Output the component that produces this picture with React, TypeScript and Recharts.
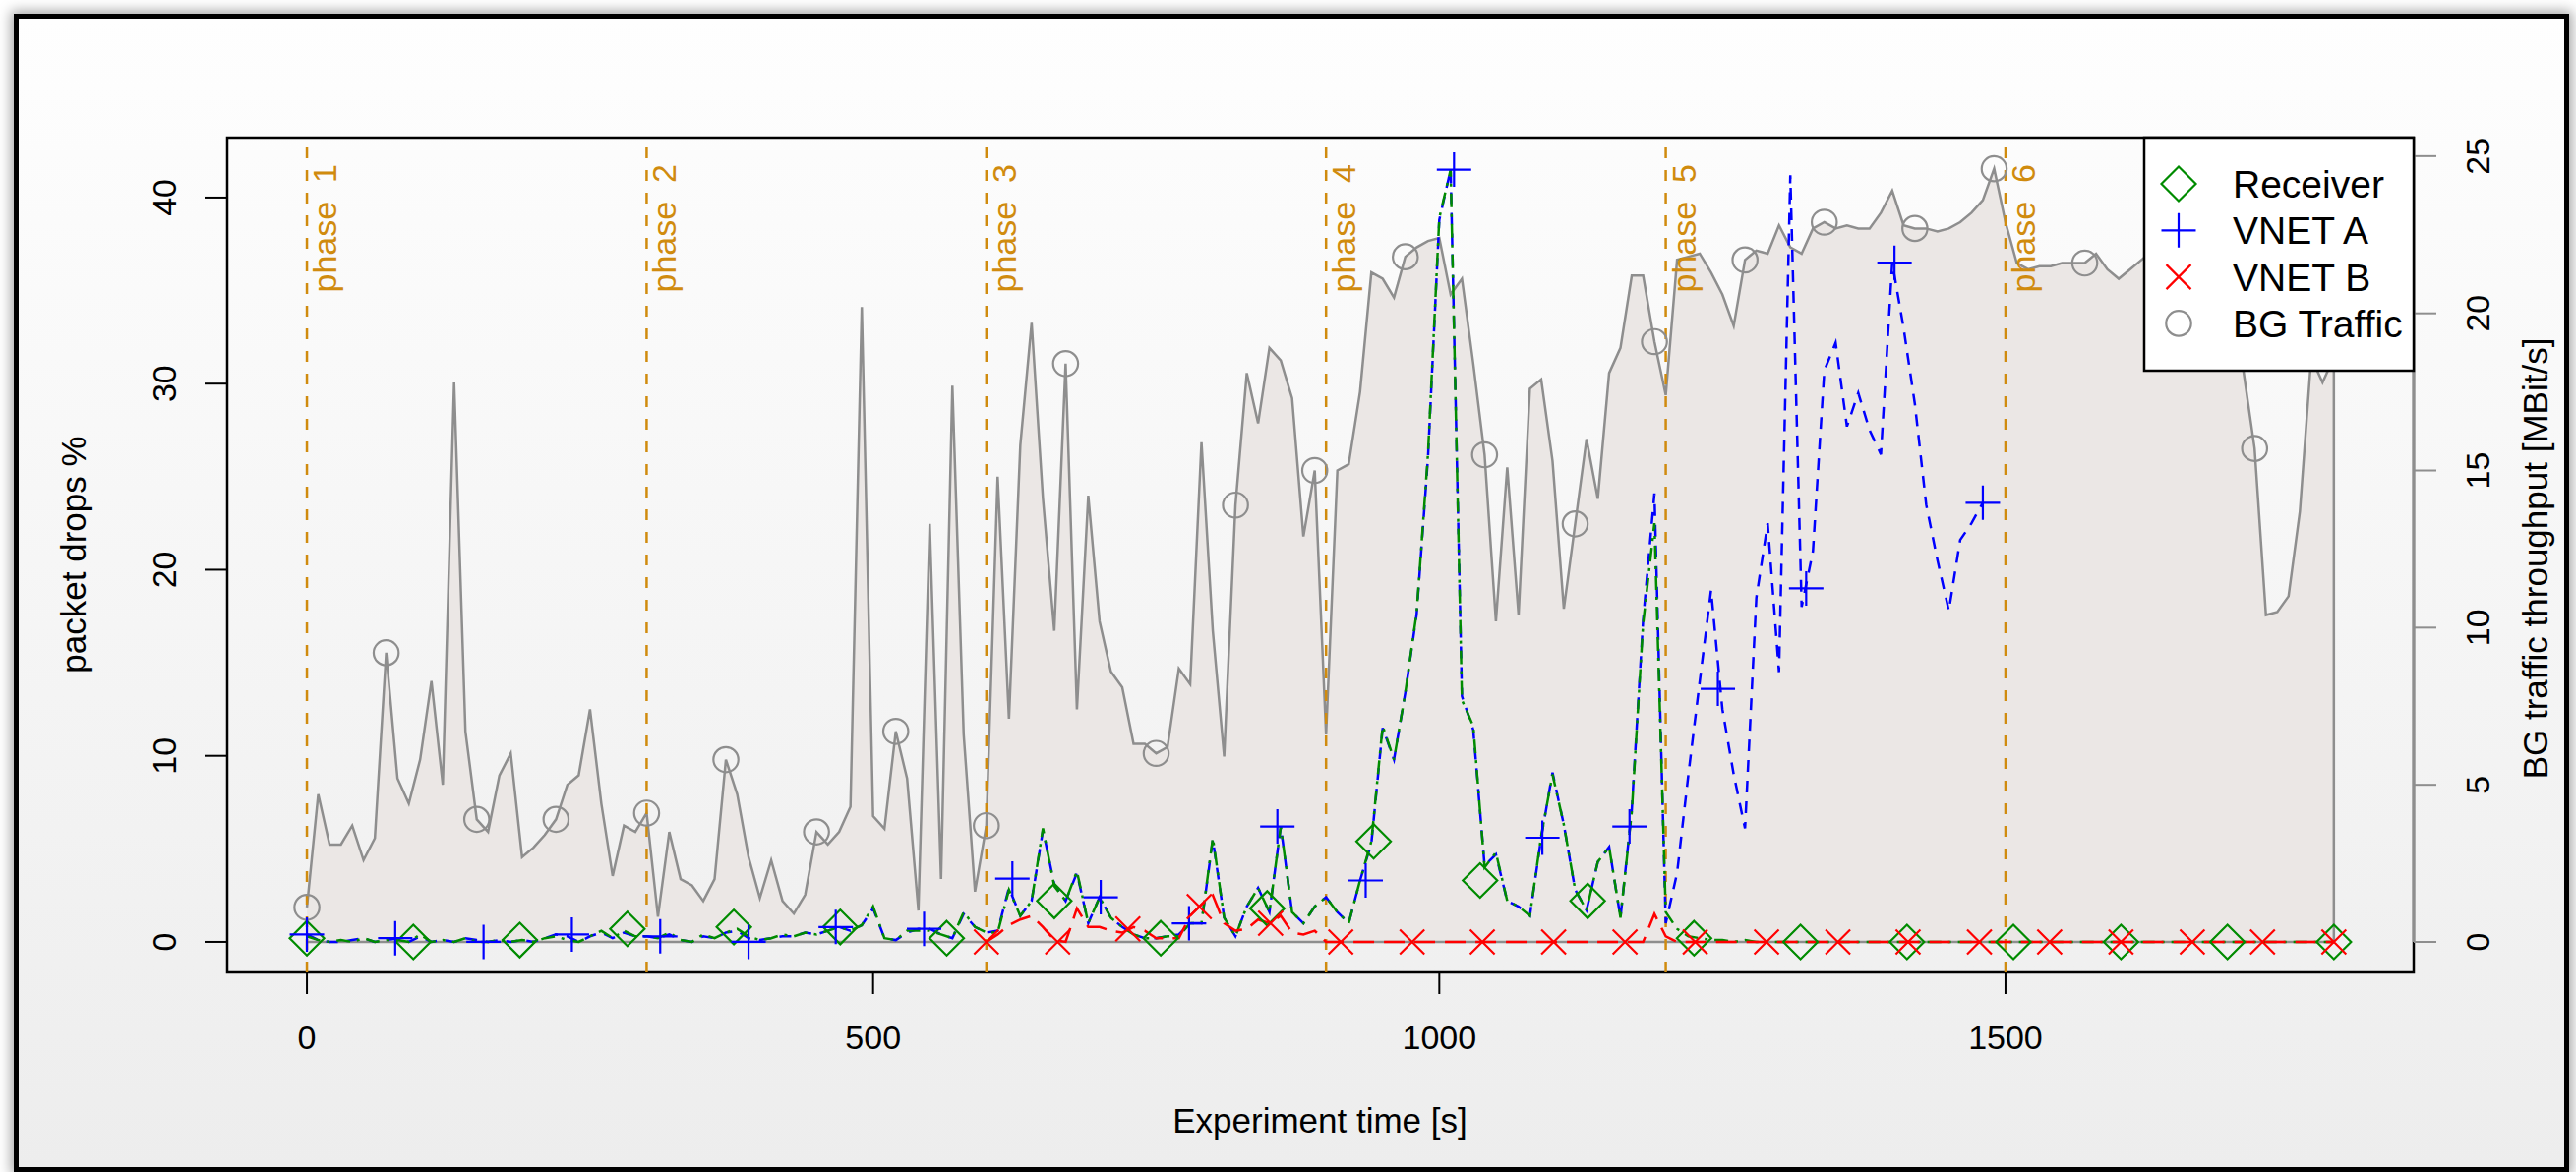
import React from 'react';
import { ComposedChart, Area, Line, Scatter, XAxis, YAxis, ReferenceLine, ReferenceArea } from 'recharts';

// sample times [s]
const times = [
  0, 10, 20, 30, 40, 50, 60, 70, 80, 90, 100, 110, 120, 130, 140, 150, 160, 170, 180, 190,
  200, 210, 220, 230, 240, 250, 260, 270, 280, 290, 300, 310, 320, 330, 340, 350, 360, 370, 380, 390,
  400, 410, 420, 430, 440, 450, 460, 470, 480, 490, 500, 510, 520, 530, 540, 550, 560, 570, 580, 590,
  600, 610, 620, 630, 640, 650, 660, 670, 680, 690, 700, 710, 720, 730, 740, 750, 760, 770, 780, 790,
  800, 810, 820, 830, 840, 850, 860, 870, 880, 890, 900, 910, 920, 930, 940, 950, 960, 970, 980, 990,
  1000, 1010, 1020, 1030, 1040, 1050, 1060, 1070, 1080, 1090, 1100, 1110, 1120, 1130, 1140, 1150, 1160, 1170, 1180, 1190,
  1200, 1210, 1220, 1230, 1240, 1250, 1260, 1270, 1280, 1290, 1300, 1310, 1320, 1330, 1340, 1350, 1360, 1370, 1380, 1390,
  1400, 1410, 1420, 1430, 1440, 1450, 1460, 1470, 1480, 1490, 1500, 1510, 1520, 1530, 1540, 1550, 1560, 1570, 1580, 1590,
  1600, 1610, 1620, 1630, 1640, 1650, 1660, 1670, 1680, 1690, 1700, 1710, 1720, 1730, 1740, 1750, 1760, 1770, 1780, 1790,
];

// background traffic throughput [MBit/s] (right axis)
const bgTraffic = [
  1.1, 4.7, 3.1, 3.1, 3.7, 2.6, 3.3, 9.2, 5.2, 4.4, 5.8, 8.3, 5.0, 17.8, 6.7, 3.9, 3.5, 5.3, 6.0, 2.7,
  3.0, 3.4, 3.9, 5.0, 5.3, 7.4, 4.4, 2.1, 3.7, 3.5, 4.1, 0.8, 3.5, 2.0, 1.8, 1.3, 2.0, 5.8, 4.7, 2.7,
  1.4, 2.6, 1.3, 0.9, 1.5, 3.5, 3.1, 3.5, 4.3, 20.2, 4.0, 3.6, 6.7, 5.2, 1.0, 13.3, 2.0, 17.7, 6.6, 1.6,
  3.7, 14.8, 7.1, 15.8, 19.7, 14.1, 9.9, 18.4, 7.4, 14.2, 10.2, 8.6, 8.1, 6.3, 6.3, 6.0, 6.2, 8.7, 8.2, 15.9,
  9.9, 5.9, 13.9, 18.1, 16.5, 18.9, 18.5, 17.3, 12.9, 15.0, 6.6, 15.0, 15.2, 17.5, 21.3, 21.1, 20.5, 21.8, 22.1, 22.3,
  22.4, 20.6, 21.1, 18.4, 15.5, 10.2, 15.1, 10.4, 17.6, 17.9, 15.3, 10.6, 13.3, 16.0, 14.1, 18.1, 18.9, 21.2, 21.2, 19.1,
  17.4, 21.7, 21.8, 21.9, 21.3, 20.6, 19.6, 21.7, 22.0, 21.9, 22.8, 22.1, 21.9, 22.7, 22.9, 22.7, 22.8, 22.7, 22.7, 23.2,
  23.9, 22.8, 22.7, 22.7, 22.6, 22.7, 22.9, 23.2, 23.6, 24.6, 22.9, 21.6, 21.4, 21.5, 21.5, 21.6, 21.6, 21.6, 21.9, 21.4,
  21.1, 21.4, 21.7, 22.0, 21.8, 22.2, 21.9, 22.0, 21.5, 20.5, 19.0, 18.2, 15.7, 10.4, 10.5, 11.0, 13.7, 18.6, 17.8, 18.6,
];

// packet drops % (left axis)
const receiver = [
  0.3, 0.1, 0.0, 0.1, 0.0, 0.2, 0.0, 0.1, 0.1, 0.0, 0.4, 0.0, 0.1, 0.0, 0.2, 0.0, 0.0, 0.1, 0.0, 0.1,
  0.0, 0.2, 0.3, 0.1, 0.0, 0.3, 0.6, 0.2, 0.6, 0.3, 0.3, 0.2, 0.5, 0.1, 0.0, 0.4, 0.2, 0.5, 0.7, 0.3,
  0.1, 0.2, 0.4, 0.3, 0.5, 0.4, 0.6, 0.8, 0.6, 0.9, 1.9, 0.2, 0.1, 0.6, 0.6, 0.6, 0.4, 0.2, 1.6, 0.8,
  0.5, 0.5, 2.8, 1.4, 2.2, 6.1, 3.0, 2.2, 3.8, 1.0, 2.4, 1.3, 0.8, 0.4, 0.2, 0.2, 0.3, 0.3, 1.0, 1.0,
  5.6, 1.3, 0.3, 1.9, 2.9, 1.6, 6.2, 1.6, 1.0, 1.9, 2.4, 1.6, 1.0, 3.3, 5.4, 11.6, 9.8, 13.4, 17.7, 26.2,
  38.9, 41.5, 13.0, 11.6, 4.0, 4.8, 2.2, 1.9, 1.4, 5.7, 9.0, 6.3, 2.8, 1.7, 4.3, 5.1, 1.3, 7.0, 17.1, 22.5,
  1.6, 0.7, 0.3, 0.2, 0.1, 0.1, 0.0, 0.1, 0.0, 0.0, 0.0, 0.0, 0.0, 0.0, 0.0, 0.0, 0.0, 0.0, 0.0, 0.0,
  0.0, 0.0, 0.0, 0.0, 0.0, 0.0, 0.0, 0.0, 0.0, 0.0, 0.0, 0.0, 0.0, 0.0, 0.0, 0.0, 0.0, 0.0, 0.0, 0.0,
  0.0, 0.0, 0.0, 0.0, 0.0, 0.0, 0.0, 0.0, 0.0, 0.0, 0.0, 0.0, 0.0, 0.0, 0.0, 0.0, 0.0, 0.0, 0.0, 0.0,
];

const vnetA = [
  0.4, 0.1, 0.0, 0.0, 0.1, 0.2, 0.0, 0.1, 0.2, 0.0, 0.3, 0.0, 0.1, 0.0, 0.2, 0.1, 0.0, 0.1, 0.0, 0.1,
  0.0, 0.2, 0.4, 0.3, 0.0, 0.3, 0.5, 0.2, 0.5, 0.3, 0.3, 0.2, 0.4, 0.1, 0.0, 0.3, 0.2, 0.5, 0.6, 0.2,
  0.1, 0.2, 0.3, 0.3, 0.5, 0.4, 0.6, 0.8, 0.6, 0.9, 1.8, 0.2, 0.1, 0.5, 0.7, 0.7, 0.4, 0.2, 1.5, 0.8,
  0.5, 0.6, 2.9, 1.4, 2.2, 6.0, 3.1, 2.2, 3.7, 1.0, 2.4, 1.3, 0.8, 0.4, 0.2, 0.2, 0.3, 0.4, 1.0, 1.0,
  5.5, 1.3, 0.3, 1.9, 2.9, 1.6, 6.2, 1.6, 1.0, 1.9, 2.4, 1.6, 1.0, 3.3, 5.3, 11.5, 9.8, 13.4, 17.6, 26.0,
  38.8, 41.5, 13.2, 11.4, 4.1, 4.7, 2.2, 1.9, 1.4, 5.6, 9.1, 6.3, 2.8, 1.7, 4.3, 5.1, 1.3, 7.1, 17.3, 24.1,
  1.0, 3.7, 9.0, 14.0, 18.9, 12.5, 9.0, 6.1, 18.5, 22.5, 14.5, 41.2, 18.0, 21.0, 30.7, 32.2, 27.7, 29.5, 27.5, 26.2,
  36.5, 33.0, 28.9, 23.5, 20.5, 17.8, 21.6, 22.5, 23.6, null, null, null, null, null, null, null, null, null, null, null,
  null, null, null, null, null, null, null, null, null, null, null, null, null, null, null, null, null, null, null, null,
];

const vnetB = [
  null, null, null, null, null, null, null, null, null, null, null, null, null, null, null, null, null, null, null, null,
  null, null, null, null, null, null, null, null, null, null, null, null, null, null, null, null, null, null, null, null,
  null, null, null, null, null, null, null, null, null, null, null, null, null, null, null, null, null, null, null, null,
  0.0, 0.4, 0.9, 1.2, 1.4, 0.8, 0.1, 0.0, 1.8, 0.8, 0.8, 0.6, 0.5, 0.8, 0.6, 0.2, 0.2, 0.2, 1.4, 2.0,
  2.5, 1.0, 0.6, 0.7, 1.2, 1.0, 1.4, 0.5, 0.4, 0.6, 0.0, 0.0, 0.0, 0.0, 0.0, 0.0, 0.0, 0.0, 0.0, 0.0,
  0.0, 0.0, 0.0, 0.0, 0.0, 0.0, 0.0, 0.0, 0.0, 0.0, 0.0, 0.0, 0.0, 0.0, 0.0, 0.0, 0.0, 0.0, 0.0, 1.5,
  0.3, 0.0, 0.0, 0.0, 0.0, 0.0, 0.0, 0.0, 0.0, 0.0, 0.0, 0.0, 0.0, 0.0, 0.0, 0.0, 0.0, 0.0, 0.0, 0.0,
  0.0, 0.0, 0.0, 0.0, 0.0, 0.0, 0.0, 0.0, 0.0, 0.0, 0.0, 0.0, 0.0, 0.0, 0.0, 0.0, 0.0, 0.0, 0.0, 0.0,
  0.0, 0.0, 0.0, 0.0, 0.0, 0.0, 0.0, 0.0, 0.0, 0.0, 0.0, 0.0, 0.0, 0.0, 0.0, 0.0, 0.0, 0.0, 0.0, 0.0,
];

// marker positions (symbols are spread evenly along each curve)
const bgMarkTimes = [0, 70, 150, 220, 300, 370, 450, 520, 600, 670, 750, 820, 890, 970, 1040, 1120, 1190, 1270, 1340, 1420, 1490, 1570, 1640, 1720, 1790];
const receiverMarkT = [0, 94, 188, 283, 377, 471, 565, 660, 754, 848, 942, 1036, 1131, 1225, 1319, 1413, 1507, 1602, 1696, 1790];
const receiverMarkV = [0.2, 0.0, 0.1, 0.7, 0.8, 0.8, 0.2, 2.2, 0.2, 1.8, 5.4, 3.3, 2.2, 0.2, 0.0, 0.0, 0.0, 0.0, 0.0, 0.0];
const vnetAMarkT = [0, 78, 156, 234, 312, 390, 467, 545, 623, 701, 779, 857, 935, 1013, 1091, 1168, 1246, 1324, 1402, 1480];
const vnetAMarkV = [0.4, 0.2, 0.0, 0.4, 0.3, 0.0, 0.8, 0.7, 3.4, 2.4, 1.0, 6.2, 3.3, 41.5, 5.6, 6.2, 13.6, 19.0, 36.5, 23.6];
const vnetBMarkT = [600, 663, 725, 788, 851, 913, 976, 1038, 1101, 1164, 1226, 1289, 1352, 1414, 1477, 1539, 1602, 1665, 1727, 1790];
const vnetBMarkV = [0.0, 0.0, 0.7, 1.9, 1.0, 0.0, 0.0, 0.0, 0.0, 0.0, 0.0, 0.0, 0.0, 0.0, 0.0, 0.0, 0.0, 0.0, 0.0, 0.0];

const phaseStarts = [0, 300, 600, 900, 1200, 1500];
const phaseLabels = ['phase\u00a0\u00a01', 'phase\u00a0\u00a02', 'phase\u00a0\u00a03', 'phase\u00a0\u00a04', 'phase\u00a0\u00a05', 'phase\u00a0\u00a06'];

const xTicks = [0, 500, 1000, 1500];
const leftTicks = [0, 10, 20, 30, 40];
const rightTicks = [0, 5, 10, 15, 20, 25];

const legendNames = ['Receiver', 'VNET A', 'VNET B', 'BG Traffic'];

const ORANGE = '#d08b0e';
const GREEN = '#008b00';
const BLUE = '#0000ff';
const RED = '#ff0000';
const GREY = '#8e8e8e';
const FILL = '#ebe7e5';

const X_DOMAIN = [-70.4, 1860.5];
const LEFT_DOMAIN = [-1.64, 43.22];
const RIGHT_DOMAIN = [-0.97, 25.59];

const rows = times.map((t, i) => ({
  t,
  bg: bgTraffic[i],
  rx: receiver[i],
  va: vnetA[i],
  vb: vnetB[i],
}));

const receiverMarks = receiverMarkT.map((t, i) => ({ t, v: receiverMarkV[i] }));
const vnetAMarks = vnetAMarkT.map((t, i) => ({ t, v: vnetAMarkV[i] }));
const vnetBMarks = vnetBMarkT.map((t, i) => ({ t, v: vnetBMarkV[i] }));

const FONT = '"Liberation Sans", Arial, Helvetica, sans-serif';

const diamondPath = (cx: number, cy: number, r: number) =>
  `M${cx},${cy - r}L${cx + r},${cy}L${cx},${cy + r}L${cx - r},${cy}Z`;

const Diamond = (p: any) => (
  <path d={diamondPath(p.cx, p.cy, 17.5)} fill="none" stroke={GREEN} strokeWidth={2.2} />
);

const Plus = (p: any) => (
  <path d={`M${p.cx - 17.5},${p.cy}H${p.cx + 17.5}M${p.cx},${p.cy - 17.5}V${p.cy + 17.5}`} stroke={BLUE} strokeWidth={2.2} fill="none" />
);

const Cross = (p: any) => (
  <path
    d={`M${p.cx - 12.5},${p.cy - 12.5}L${p.cx + 12.5},${p.cy + 12.5}M${p.cx - 12.5},${p.cy + 12.5}L${p.cx + 12.5},${p.cy - 12.5}`}
    stroke={RED}
    strokeWidth={2.2}
    fill="none"
  />
);

const bgDot = (p: any) =>
  bgMarkTimes.includes(p.payload.t) ? (
    <circle key={`bgdot-${p.index}`} cx={p.cx} cy={p.cy} r={12.7} fill="none" stroke={GREY} strokeWidth={2.2} />
  ) : (
    <g key={`bgdot-${p.index}`} />
  );

const VerticalTick = (p: any) => (
  <text x={p.x} y={p.y} transform={`rotate(-90 ${p.x} ${p.y})`} textAnchor="middle" fontSize={34} fill="#000" fontFamily={FONT}>
    {p.payload.value}
  </text>
);

const BottomTick = (p: any) => (
  <text x={p.x} y={p.y} textAnchor="middle" fontSize={34} fill="#000" fontFamily={FONT}>
    {p.payload.value}
  </text>
);

const phaseLabel = (name: string) => (p: any) => {
  const x = p.viewBox.x + 30;
  const y = 167;
  return (
    <text x={x} y={y} transform={`rotate(-90 ${x} ${y})`} textAnchor="end" fontSize={34} fill={ORANGE} fontFamily={FONT}>
      {name}
    </text>
  );
};

const legendSymbol = (i: number, cx: number, cy: number) => {
  if (i === 0) return <path d={diamondPath(cx, cy, 17.5)} fill="none" stroke={GREEN} strokeWidth={2.2} />;
  if (i === 1)
    return <path d={`M${cx - 17.5},${cy}H${cx + 17.5}M${cx},${cy - 17.5}V${cy + 17.5}`} stroke={BLUE} strokeWidth={2.2} />;
  if (i === 2)
    return (
      <path
        d={`M${cx - 12.5},${cy - 12.5}L${cx + 12.5},${cy + 12.5}M${cx - 12.5},${cy + 12.5}L${cx + 12.5},${cy - 12.5}`}
        stroke={RED}
        strokeWidth={2.2}
      />
    );
  return <circle cx={cx} cy={cy} r={12.7} fill="none" stroke={GREY} strokeWidth={2.2} />;
};

export default function App() {
  const last = times.length - 1;
  return (
    <div style={{ position: 'absolute', left: 0, top: 0, width: 2619, height: 1192, overflow: 'hidden', fontFamily: FONT }}>
      {/* framed figure background */}
      <div
        style={{
          position: 'absolute',
          left: 14,
          top: 14,
          width: 2598,
          height: 1178,
          boxSizing: 'border-box',
          border: '5px solid #000',
          background: 'linear-gradient(#fefefe, #ededed)',
          boxShadow: '0 0 12px 3px rgba(0,0,0,0.35)',
        }}
      />
      <div style={{ position: 'absolute', left: 0, top: 0 }}>
        <ComposedChart width={2619} height={1192} data={rows} margin={{ top: 140, right: 0, bottom: 0, left: 0 }}>
          <XAxis
            dataKey="t"
            type="number"
            domain={X_DOMAIN}
            allowDataOverflow
            ticks={xTicks}
            height={203}
            axisLine={false}
            tickSize={22}
            tickMargin={56}
            tickLine={{ stroke: '#000', strokeWidth: 2 }}
            tick={<BottomTick />}
          />
          <YAxis
            yAxisId="left"
            type="number"
            domain={LEFT_DOMAIN}
            allowDataOverflow
            ticks={leftTicks}
            width={231}
            axisLine={false}
            tickSize={23}
            tickMargin={29}
            tickLine={{ stroke: '#000', strokeWidth: 2 }}
            tick={<VerticalTick />}
          />
          <YAxis
            yAxisId="right"
            orientation="right"
            type="number"
            domain={RIGHT_DOMAIN}
            allowDataOverflow
            ticks={rightTicks}
            width={165}
            axisLine={false}
            tickSize={23}
            tickMargin={54}
            tickLine={{ stroke: GREY, strokeWidth: 2 }}
            tick={<VerticalTick />}
          />

          <Area
            yAxisId="right"
            type="linear"
            dataKey="bg"
            stroke={GREY}
            strokeWidth={2.5}
            fill={FILL}
            fillOpacity={1}
            dot={bgDot}
            activeDot={false}
            isAnimationActive={false}
          />
          <ReferenceLine
            yAxisId="right"
            segment={[{ x: times[0], y: 0 }, { x: times[last], y: 0 }]}
            stroke={GREY}
            strokeWidth={2.5}
          />
          <ReferenceLine
            yAxisId="right"
            segment={[{ x: times[last], y: 0 }, { x: times[last], y: bgTraffic[last] }]}
            stroke={GREY}
            strokeWidth={2.5}
          />

          {phaseStarts.map((x, i) => (
            <ReferenceLine
              key={`phase-${i}`}
              yAxisId="left"
              x={x}
              stroke={ORANGE}
              strokeWidth={2.5}
              strokeDasharray="11 12"
              label={phaseLabel(phaseLabels[i])}
            />
          ))}

          <Line yAxisId="left" type="linear" dataKey="va" stroke={BLUE} strokeWidth={2.5} strokeDasharray="12 9" dot={false} activeDot={false} isAnimationActive={false} />
          <Line yAxisId="left" type="linear" dataKey="rx" stroke={GREEN} strokeWidth={2.5} strokeDasharray="14 7 3 7" dot={false} activeDot={false} isAnimationActive={false} />
          <Line yAxisId="left" type="linear" dataKey="vb" stroke={RED} strokeWidth={2.5} strokeDasharray="21 10" dot={false} activeDot={false} isAnimationActive={false} />

          <Scatter yAxisId="left" data={receiverMarks} dataKey="v" shape={<Diamond />} isAnimationActive={false} />
          <Scatter yAxisId="left" data={vnetAMarks} dataKey="v" shape={<Plus />} isAnimationActive={false} />
          <Scatter yAxisId="left" data={vnetBMarks} dataKey="v" shape={<Cross />} isAnimationActive={false} />

          <ReferenceArea
            yAxisId="left"
            x1={X_DOMAIN[0]}
            x2={X_DOMAIN[1]}
            y1={LEFT_DOMAIN[0]}
            y2={LEFT_DOMAIN[1]}
            fill="none"
            stroke="#000"
            strokeWidth={2.5}
            ifOverflow="visible"
          />
          <ReferenceLine
            yAxisId="right"
            segment={[{ x: X_DOMAIN[1], y: rightTicks[0] }, { x: X_DOMAIN[1], y: rightTicks[rightTicks.length - 1] }]}
            stroke={GREY}
            strokeWidth={2.5}
            ifOverflow="visible"
          />
        </ComposedChart>
      </div>

      {/* titles and legend */}
      <svg width={2619} height={1192} style={{ position: 'absolute', left: 0, top: 0, pointerEvents: 'none' }}>
        <text x={87} y={564} transform="rotate(-90 87 564)" textAnchor="middle" fontSize={35} fontFamily={FONT} fill="#000">
          packet drops %
        </text>
        <text x={2590} y={568} transform="rotate(-90 2590 568)" textAnchor="middle" fontSize={35} fontFamily={FONT} fill="#000">
          BG traffic throughput [MBit/s]
        </text>
        <text x={1342} y={1152} textAnchor="middle" fontSize={35} fontFamily={FONT} fill="#000">
          Experiment time [s]
        </text>

        <rect x={2180} y={140} width={274} height={237} fill="#fff" stroke="#000" strokeWidth={2.5} />
        {legendNames.map((name, i) => {
          const cy = 187 + i * 47.3;
          return (
            <g key={name}>
              {legendSymbol(i, 2215, cy)}
              <text x={2270} y={cy + 14} fontSize={39} fontFamily={FONT} fill="#000">
                {name}
              </text>
            </g>
          );
        })}
      </svg>
    </div>
  );
}
